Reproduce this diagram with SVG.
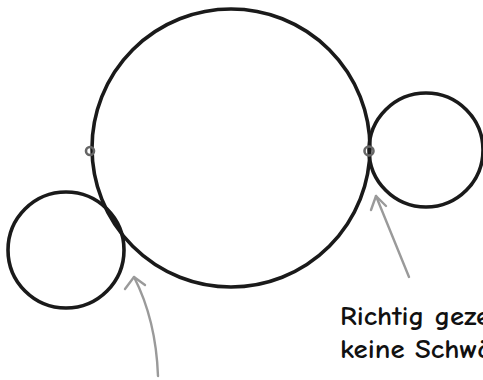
<svg xmlns="http://www.w3.org/2000/svg" width="483" height="380" viewBox="0 0 483 380">
<defs>
<style>
.c{fill:none;stroke:#1a1a1a;stroke-width:3.6}
.k{fill:none;stroke:#666;stroke-width:2.6}
.a{fill:none;stroke:#9a9a9a;stroke-width:2.4;stroke-linecap:round;stroke-linejoin:round}
.t{font-family:"Comic Neue","Liberation Sans",sans-serif;font-size:27px;font-weight:bold;fill:#111}
</style>
</defs>
<rect width="483" height="380" fill="#fff"/>
<g id="big-circle"><circle class="c" cx="231" cy="148" r="139"/></g>
<g id="right-circle"><circle class="c" cx="426" cy="150" r="57"/></g>
<g id="left-circle"><circle class="c" cx="66" cy="250" r="58"/></g>
<g id="marker-left"><circle class="k" cx="90" cy="151" r="4"/></g>
<g id="marker-right"><circle class="k" cx="369" cy="151" r="4.5"/></g>
<g id="connectors">
<path class="a" d="M158 376 Q156 320 134 277"/>
<path class="a" d="M125 289 L134 277 L145 285"/>
<path class="a" d="M409 277 Q392 235 376 196"/>
<path class="a" d="M371 210 L376 196 L386 206"/>
</g>
<g id="label">
<text class="t" x="340" y="325" textLength="150" lengthAdjust="spacingAndGlyphs">Richtig geze</text>
<text class="t" x="340" y="358" textLength="152" lengthAdjust="spacingAndGlyphs">keine Schwä</text>
</g>
</svg>
